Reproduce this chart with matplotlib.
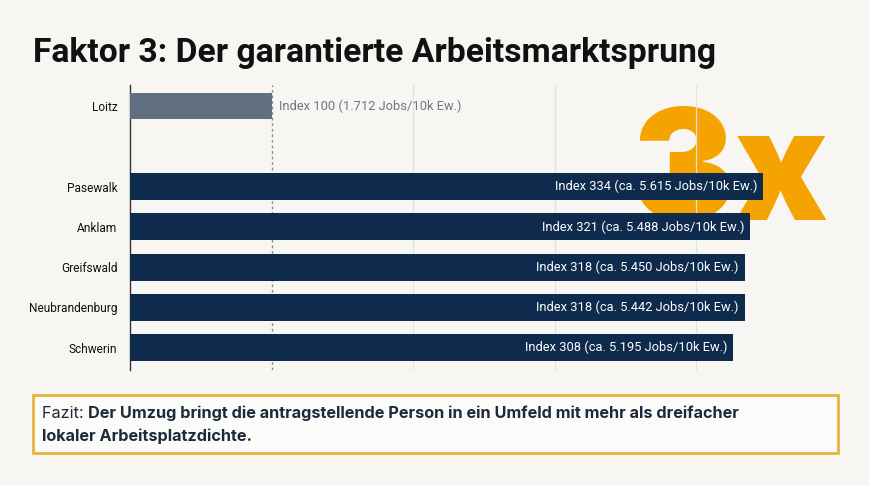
import numpy as np
import matplotlib.pyplot as plt
from matplotlib.patches import Rectangle

# Daten
orte = ["Loitz", "Pasewalk", "Anklam", "Greifswald", "Neubrandenburg", "Schwerin"]
balken = [100, 447, 438, 434, 434, 426]          # Balkenlänge wie im Bild
index_werte = [100, 334, 321, 318, 318, 308]
jobs = ["1.712", "5.615", "5.488", "5.450", "5.442", "5.195"]
pos = [0, 2, 3, 4, 5, 6]

BG = "#f7f6f3"
NAVY = "#0e2a4d"
GRAU = "#607080"
ORANGE = "#f5a300"

narrow = ["Roboto", "DejaVu Sans"]

fig = plt.figure(figsize=(8.7, 4.86), dpi=100, facecolor=BG)
ax = fig.add_axes([0.1494, 0.239, 0.9632 - 0.1494, 0.825 - 0.239])
ax.set_facecolor(BG)

# großes 3x hinter den Balken
fig.text(0.839, 0.547, "3x", ha="center", va="baseline", fontsize=111,
         fontweight="black", color=ORANGE, family=["Inter", "DejaVu Sans"], zorder=0)
ax.set_zorder(1)
ax.patch.set_alpha(0)

farben = [GRAU] + [NAVY] * 5
ax.barh(pos, balken, height=0.67, color=farben, zorder=3)

for p, b, i, j in zip(pos, balken, index_werte, jobs):
    if p == 0:
        ax.text(b + 5, p, f"Index {i} ({j} Jobs/10k Ew.)", va="center", ha="left",
                fontsize=9.3, color="#6b7785", family=narrow, zorder=4)
    else:
        ax.text(b - 4, p, f"Index {i} (ca. {j} Jobs/10k Ew.)", va="center", ha="right",
                fontsize=9.3, color="white", family=narrow, zorder=4)

ax.set_xlim(0, 500)
ax.set_ylim(6.55, -0.52)
ax.set_yticks(pos)
ax.set_yticklabels(orte, fontsize=8.6, family=narrow, color="#111111")
ax.tick_params(axis="y", length=0, pad=9)
ax.set_xticks([])
for x in [200, 300, 400, 500]:
    ax.axvline(x, color="#e2e2e0", lw=0.9, zorder=1)
ax.axvline(100, color="#8a8f96", lw=1, ls=(0, (2, 2)), zorder=1)
for s in ["top", "right", "bottom"]:
    ax.spines[s].set_visible(False)
ax.spines["left"].set_color("#333333")
ax.spines["left"].set_linewidth(1)

# Titel
fig.text(0.038, 1 - 62 / 486, "Faktor 3: Der garantierte Arbeitsmarktsprung",
         fontsize=24.2, fontweight="bold", color="#111111", family=["Roboto", "DejaVu Sans"],
         va="baseline", ha="left")

# Fazit-Box
box = Rectangle((33 / 870, 1 - 453 / 486), (838 - 33) / 870, (453 - 395) / 486,
                transform=fig.transFigure, facecolor="#fbfbf9", edgecolor="#e8b440",
                lw=2, zorder=0)
fig.patches.append(box)

fazit_font = ["Inter", "DejaVu Sans"]
fs = 11.7
t1 = fig.text(42 / 870, 1 - 418 / 486, "Fazit: ", fontsize=fs, color="#1c2a3a",
              family=fazit_font, va="baseline", ha="left")
fig.canvas.draw()
bb = t1.get_window_extent()
fig.text(bb.x1 / fig.bbox.width, 1 - 418 / 486,
         "Der Umzug bringt die antragstellende Person in ein Umfeld mit mehr als dreifacher",
         fontsize=fs, fontweight="bold", color="#1c2a3a", family=fazit_font,
         va="baseline", ha="left")
fig.text(42 / 870, 1 - 441 / 486, "lokaler Arbeitsplatzdichte.", fontsize=fs,
         fontweight="bold", color="#1c2a3a", family=fazit_font, va="baseline", ha="left")

fig.savefig("out.png", dpi=100, facecolor=BG)
